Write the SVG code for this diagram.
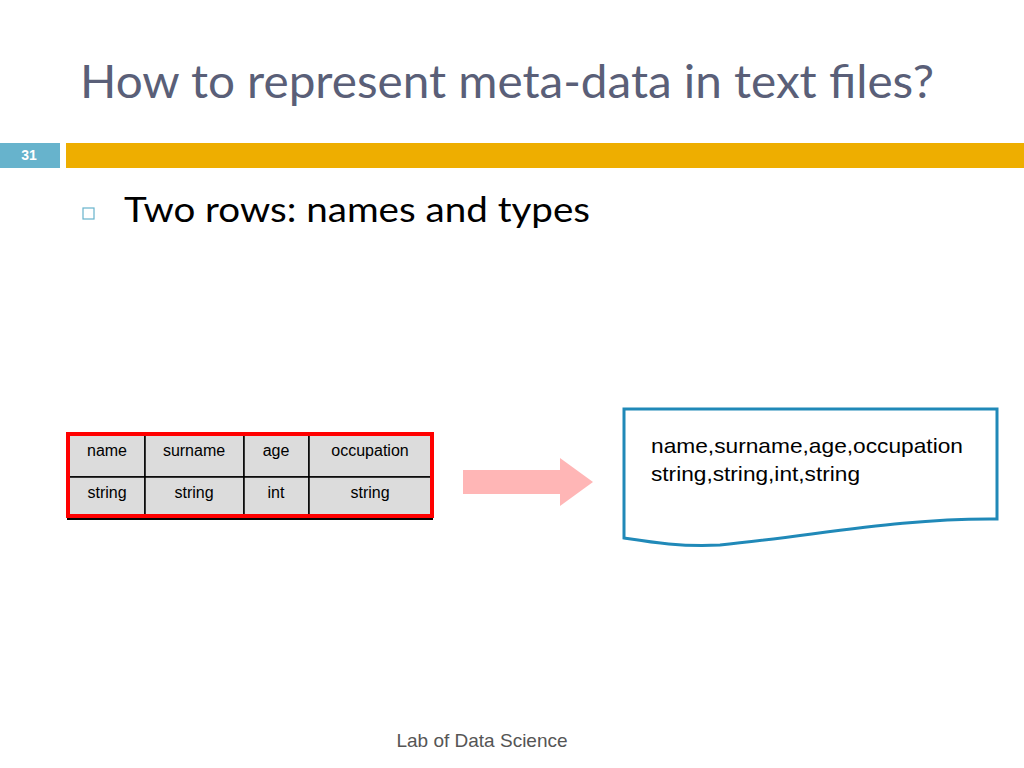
<svg xmlns="http://www.w3.org/2000/svg" width="1024" height="768" viewBox="0 0 1024 768">
<style>
.t{font-family:"Liberation Sans",Arial,sans-serif;font-size:16px;fill:#000;text-anchor:middle}
.c{fill:#dcdcdc;stroke:#000;stroke-width:1.5}
</style>
<rect width="1024" height="768" fill="#fff"/>
<text x="80" y="98" font-family="Lato,'Open Sans',sans-serif" font-size="46" fill="#5a5f78" textLength="854" lengthAdjust="spacingAndGlyphs">How to represent meta-data in text files?</text>
<rect x="0" y="143" width="60" height="25" fill="#67b3cc"/>
<text x="29" y="160" font-family="'Liberation Sans',sans-serif" font-size="14" font-weight="bold" fill="#fff" text-anchor="middle">31</text>
<rect x="66" y="143" width="958" height="25" fill="#eeae00"/>
<rect x="83" y="208" width="11" height="11" fill="none" stroke="#67b3cc" stroke-width="1.2"/>
<text x="124" y="222" font-family="Lato,'Open Sans',sans-serif" font-size="34" fill="#000" textLength="466" lengthAdjust="spacingAndGlyphs">Two rows: names and types</text>
<g id="table">
<rect x="67" y="515" width="366" height="5" fill="#000"/>
<rect class="c" x="69" y="435" width="76" height="42"/><rect class="c" x="145" y="435" width="99" height="42"/>
<rect class="c" x="244" y="435" width="65" height="42"/><rect class="c" x="309" y="435" width="122" height="42"/>
<rect class="c" x="69" y="477" width="76" height="38"/><rect class="c" x="145" y="477" width="99" height="38"/>
<rect class="c" x="244" y="477" width="65" height="38"/><rect class="c" x="309" y="477" width="122" height="38"/>
<rect x="68" y="434" width="364" height="82" fill="none" stroke="#f00" stroke-width="4"/>
<text class="t" x="107" y="456">name</text><text class="t" x="194" y="456">surname</text>
<text class="t" x="276" y="456">age</text><text class="t" x="370" y="456">occupation</text>
<text class="t" x="107" y="498">string</text><text class="t" x="194" y="498">string</text>
<text class="t" x="276" y="498">int</text><text class="t" x="370" y="498">string</text>
</g>
<g id="connectors">
<polygon points="463,470 560,470 560,458 593,482 560,506 560,494 463,494" fill="#ffb6b6"/>
</g>
<g id="doc">
<path d="M624,409 H997 V519 C900,518 820,535 720,545 C680,547 650,542 624,538 Z" fill="#fff" stroke="#2089b8" stroke-width="3"/>
<text x="651" y="453" font-family="'Liberation Sans',sans-serif" font-size="21" textLength="312" lengthAdjust="spacingAndGlyphs">name,surname,age,occupation</text>
<text x="651" y="481" font-family="'Liberation Sans',sans-serif" font-size="21" textLength="209" lengthAdjust="spacingAndGlyphs">string,string,int,string</text>
</g>
<text x="482" y="747" font-family="'Liberation Sans',sans-serif" font-size="19" fill="#555" text-anchor="middle">Lab of Data Science</text>
</svg>
